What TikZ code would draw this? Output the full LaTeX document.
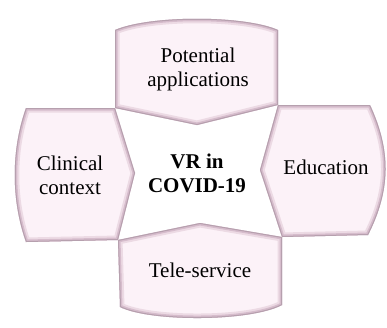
\documentclass[tikz,border=0pt]{standalone}
\usepackage{fontspec}
\setmainfont{Liberation Serif}
\usepackage{tikz}
\usetikzlibrary{positioning, calc}
\definecolor{pinkfill}{RGB}{252,242,248}
\definecolor{edgelight}{RGB}{236,218,228}
\definecolor{edgemid}{RGB}{214,188,204}
\definecolor{edgedark}{RGB}{150,120,140}
\tikzstyle{boxtext} = [align=center, text=black, font=\fontsize{21}{24}\selectfont]
\tikzstyle{hubtext} = [align=center, text=black, font=\fontsize{21}{24}\selectfont\bfseries]
\newcommand{\bevelbox}[1]{%
  \begin{scope}
    \clip #1;
    \fill[pinkfill] #1;
    \draw[edgelight, line width=9pt, line join=miter] #1;
    \draw[edgemid, line width=5pt, line join=miter] #1;
    \draw[edgedark!70, line width=2pt, line join=miter] #1;
  \end{scope}}

\begin{document}
\begin{tikzpicture}[x=1pt, y=-1pt]
\useasboundingbox[fill=white] (0,0) rectangle (387,327);
% the four petals round the hub
\bevelbox{(115,30) .. controls (150,15) and (244,15) .. (278,30) -- (278,105) -- (197,125) -- (115,108) -- cycle}
\bevelbox{(115,108) -- (135,173) -- (118,240) -- (26,242) .. controls (11,200) and (11,150) .. (26,108) -- cycle}
\bevelbox{(278,105) -- (370,105) .. controls (391,150) and (391,190) .. (368,235) -- (282,237) -- (260,170) -- cycle}
\bevelbox{(118,240) -- (200,223) -- (282,237) -- (282,305) .. controls (250,322) and (150,322) .. (120,307) -- cycle}
% texts
\node(hub)[hubtext] at (197,173) {VR in\\COVID-19};
\node(apps)[boxtext] at (198,69) {Potential\\applications};
\node(clinic)[boxtext] at (70,175) {Clinical\\context};
\node(edu)[boxtext] at (326,167) {Education};
\node(tele)[boxtext] at (200,270) {Tele-service};
\end{tikzpicture}
\end{document}
